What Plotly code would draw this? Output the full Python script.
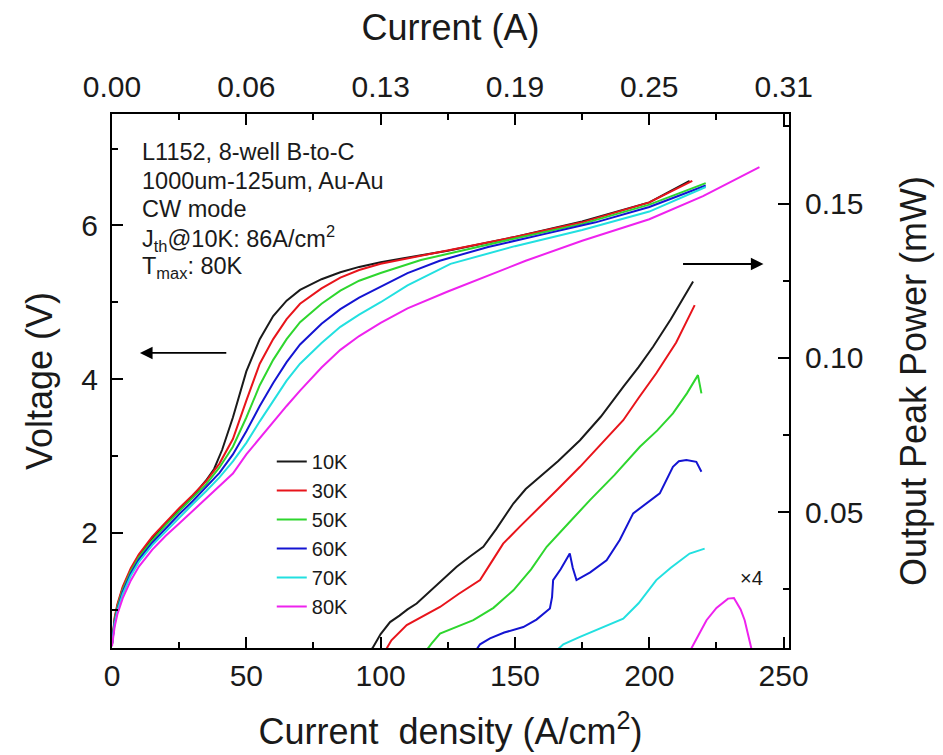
import plotly.graph_objects as go

# ---------------- data ----------------
temps = ["10K", "30K", "50K", "60K", "70K", "80K"]
colors = ["#1a1a1a", "#e8141b", "#2ed62e", "#1414d2", "#22e0e0", "#ee22ee"]

# Voltage vs current density (A/cm^2)
j_v_10 = [0, 1, 2, 4, 7, 10, 15, 20, 25, 30, 35, 38, 41, 45, 50, 55, 60, 65, 70, 78, 85, 92, 100, 108, 125, 150, 175, 200, 215]
v_10 = [0.55, 0.88, 1.05, 1.28, 1.52, 1.7, 1.93, 2.12, 2.3, 2.47, 2.68, 2.83, 3.08, 3.5, 4.1, 4.52, 4.82, 5.02, 5.16, 5.3, 5.39, 5.46, 5.52, 5.57, 5.67, 5.85, 6.05, 6.3, 6.58]

j_v_30 = [0, 1, 2, 4, 7, 10, 15, 20, 25, 30, 35, 40, 45, 50, 55, 60, 65, 70, 78, 85, 92, 100, 110, 125, 150, 175, 200, 216]
v_30 = [0.55, 0.9, 1.07, 1.3, 1.54, 1.72, 1.95, 2.14, 2.32, 2.49, 2.67, 2.9, 3.22, 3.72, 4.2, 4.52, 4.78, 4.98, 5.18, 5.32, 5.42, 5.5, 5.57, 5.67, 5.85, 6.04, 6.3, 6.58]

j_v_50 = [0, 1, 2, 4, 7, 10, 15, 20, 25, 30, 35, 40, 45, 50, 55, 60, 65, 70, 78, 85, 92, 100, 115, 130, 150, 175, 200, 221]
v_50 = [0.55, 0.86, 1.03, 1.26, 1.5, 1.68, 1.9, 2.1, 2.28, 2.45, 2.63, 2.85, 3.12, 3.5, 3.92, 4.25, 4.52, 4.74, 4.98, 5.15, 5.28, 5.38, 5.55, 5.67, 5.83, 6.02, 6.27, 6.55]

j_v_60 = [0, 1, 2, 4, 7, 10, 15, 20, 25, 30, 35, 40, 45, 50, 55, 60, 65, 70, 78, 85, 92, 100, 110, 122, 140, 160, 180, 200, 221]
v_60 = [0.55, 0.84, 1.0, 1.23, 1.47, 1.65, 1.87, 2.06, 2.24, 2.41, 2.59, 2.78, 3.02, 3.32, 3.65, 3.95, 4.22, 4.45, 4.72, 4.91, 5.06, 5.2, 5.38, 5.54, 5.72, 5.88, 6.04, 6.24, 6.52]

j_v_70 = [0, 1, 2, 4, 7, 10, 15, 20, 25, 30, 35, 40, 45, 50, 55, 60, 65, 70, 78, 85, 92, 100, 110, 126, 150, 175, 200, 221]
v_70 = [0.55, 0.82, 0.98, 1.2, 1.44, 1.62, 1.84, 2.02, 2.2, 2.37, 2.54, 2.72, 2.93, 3.17, 3.45, 3.72, 3.98, 4.2, 4.47, 4.68, 4.84, 5.0, 5.22, 5.5, 5.73, 5.94, 6.18, 6.5]

j_v_80 = [0, 1, 2, 4, 7, 10, 15, 20, 25, 30, 35, 40, 45, 50, 55, 60, 65, 70, 78, 85, 92, 100, 110, 125, 140, 154, 175, 200, 220, 241]
v_80 = [0.52, 0.78, 0.94, 1.15, 1.38, 1.56, 1.78, 1.96, 2.12, 2.28, 2.44, 2.6, 2.77, 3.02, 3.23, 3.45, 3.65, 3.85, 4.15, 4.38, 4.56, 4.73, 4.92, 5.14, 5.35, 5.54, 5.8, 6.08, 6.38, 6.76]

# Output peak power (mW) vs current density
j_p_10 = [95, 97, 100, 103.5, 107, 110, 113.4, 118, 123, 128.3, 133, 138.2, 143, 149.4, 154, 159.3, 166, 174.2, 182, 190.3, 196, 201.4, 208, 216.3]
p_10 = [0.004, 0.006, 0.0105, 0.0144, 0.0165, 0.0185, 0.0204, 0.024, 0.028, 0.0323, 0.0355, 0.0388, 0.0445, 0.0528, 0.0575, 0.0614, 0.0665, 0.0733, 0.081, 0.0906, 0.097, 0.1036, 0.1125, 0.1247]

j_p_30 = [101, 104, 109.7, 115, 122.1, 129, 137, 141, 145.6, 152, 159.3, 166, 174.2, 182, 190.3, 196, 202.6, 210, 216.9]
p_30 = [0.004, 0.0085, 0.0134, 0.016, 0.0193, 0.0235, 0.028, 0.0335, 0.0398, 0.0455, 0.0517, 0.0575, 0.0647, 0.072, 0.0798, 0.087, 0.095, 0.105, 0.1171]

j_p_50 = [116, 119, 122.1, 128, 134.5, 142, 149.4, 156, 161.8, 170, 177.9, 187, 196.5, 203, 208.8, 214, 218.1, 219.4]
p_50 = [0.004, 0.0075, 0.0107, 0.0128, 0.015, 0.019, 0.0247, 0.0315, 0.0388, 0.0465, 0.0539, 0.062, 0.0712, 0.0765, 0.082, 0.0885, 0.0944, 0.0885]

j_p_60 = [134.5, 137, 140.7, 146, 153.1, 158, 163, 163.8, 164.2, 167, 170.4, 171.5, 172.9, 178, 184.1, 189, 194, 199, 203.9, 208.8, 211, 213.8, 217.5, 219.4]
p_60 = [0.004, 0.0072, 0.0091, 0.011, 0.0128, 0.0152, 0.0188, 0.0225, 0.028, 0.0315, 0.0366, 0.032, 0.028, 0.0305, 0.0344, 0.041, 0.0496, 0.053, 0.0561, 0.0647, 0.0665, 0.0669, 0.0663, 0.0631]

j_p_70 = [164, 168, 174.2, 182, 190.3, 196, 202.6, 208, 215, 220.6]
p_70 = [0.004, 0.0072, 0.0096, 0.0125, 0.0155, 0.0205, 0.028, 0.032, 0.0366, 0.0382]

# 80K power is shown magnified x4
j_p_80 = [214.5, 218, 221.3, 225, 229.3, 231.5, 234, 235.5, 237, 238.5]
p_80 = [0.004, 0.0095, 0.015, 0.019, 0.022, 0.0222, 0.0185, 0.015, 0.01, 0.004]

volt_j = [j_v_10, j_v_30, j_v_50, j_v_60, j_v_70, j_v_80]
volt_v = [v_10, v_30, v_50, v_60, v_70, v_80]
pow_j = [j_p_10, j_p_30, j_p_50, j_p_60, j_p_70, j_p_80]
pow_p = [p_10, p_30, p_50, p_60, p_70, p_80]

# axis ticks
j_ticks = [0, 50, 100, 150, 200, 250]
j_minor = [25, 75, 125, 175, 225]
area_cm2 = 0.1 * 0.0125  # 1000 um x 125 um
current_ticks = [j * area_cm2 for j in j_ticks]
current_minor = [j * area_cm2 for j in j_minor]
current_labels = ["0.00", "0.06", "0.13", "0.19", "0.25", "0.31"]
v_ticks = [2, 4, 6]
v_minor = [1, 3, 5, 7]
p_ticks = [0.05, 0.10, 0.15]
p_labels = ["0.05", "0.10", "0.15"]
p_minor = [0.025, 0.075, 0.125, 0.175]

J_MAX = 252
V_RANGE = [0.5, 7.45]
P_RANGE = [0.006, 0.179]

# ---------------- figure ----------------
FONT = "Liberation Sans, Arial, sans-serif"
TICKFONT = dict(family=FONT, size=30, color="#1a1a1a")
TITLEFONT = dict(family=FONT, size=36, color="#1a1a1a")

fig = go.Figure()

for name, c, jj, vv in zip(temps, colors, volt_j, volt_v):
    fig.add_trace(go.Scatter(x=jj, y=vv, mode="lines", name=name, legendgroup=name,
                             line=dict(color=c, width=2), xaxis="x", yaxis="y"))

for name, c, jj, pp in zip(temps, colors, pow_j, pow_p):
    fig.add_trace(go.Scatter(x=jj, y=pp, mode="lines", name=name, legendgroup=name,
                             showlegend=False, line=dict(color=c, width=2),
                             xaxis="x", yaxis="y2"))

# carrier trace so the top current axis is rendered
fig.add_trace(go.Scatter(x=[0], y=[None], xaxis="x2", yaxis="y", showlegend=False,
                         hoverinfo="skip", mode="lines"))

axis_common = dict(showline=True, linewidth=2, linecolor="black", ticks="inside",
                   ticklen=11, tickwidth=1.6, tickcolor="black", showgrid=False,
                   zeroline=False, tickfont=TICKFONT, mirror=False, automargin=False)


def minor_ticks(vals):
    return dict(tickmode="array", tickvals=vals, ticklen=6, ticks="inside",
                tickcolor="black", tickwidth=1.6)


fig.update_layout(
    width=943, height=755,
    margin=dict(l=112, r=154, t=114, b=107),
    paper_bgcolor="white", plot_bgcolor="white",
    font=dict(family=FONT, color="#1a1a1a"),
    xaxis=dict(range=[0, J_MAX], tickmode="array", tickvals=j_ticks, minor=minor_ticks(j_minor),
               title=dict(text="Current\u00a0\u00a0density (A/cm<sup>2</sup>)", font=TITLEFONT, standoff=28),
               ticklabelstandoff=0, **axis_common),
    xaxis2=dict(overlaying="x", side="top", anchor="y", range=[0, J_MAX * area_cm2],
                tickmode="array", tickvals=current_ticks, ticktext=current_labels,
                minor=minor_ticks(current_minor),
                title=dict(text="Current (A)", font=TITLEFONT, standoff=18),
                ticklabelstandoff=3, **axis_common),
    yaxis=dict(range=V_RANGE, tickmode="array", tickvals=v_ticks, minor=minor_ticks(v_minor),
               title=dict(text="Voltage (V)", font=TITLEFONT, standoff=18),
               ticklabelstandoff=6, **axis_common),
    yaxis2=dict(overlaying="y", side="right", anchor="x", range=P_RANGE,
                tickmode="array", tickvals=p_ticks, ticktext=p_labels, minor=minor_ticks(p_minor),
                title=dict(text="Output Peak Power (mW)", font=TITLEFONT, standoff=38),
                ticklabelstandoff=8, **axis_common),
    legend=dict(x=0.236, y=0.386, xanchor="left", yanchor="top", bgcolor="rgba(0,0,0,0)",
                font=dict(family=FONT, size=20, color="#1a1a1a"), tracegroupgap=0,
                itemwidth=30),
    showlegend=True,
)

# sample description
info_lines = ["L1152, 8-well B-to-C", "1000um-125um, Au-Au", "CW mode",
              "J<sub>th</sub>@10K: 86A/cm<sup>2</sup>", "T<sub>max</sub>: 80K"]
info_y = [152, 181, 209, 238, 267]
for txt, ypx in zip(info_lines, info_y):
    fig.add_annotation(text=txt, xref="paper", yref="paper",
                       x=(140 - 112) / 677, y=(648 - ypx) / 534,
                       xanchor="left", yanchor="middle", showarrow=False,
                       font=dict(family=FONT, size=23.5, color="#1a1a1a"))

# arrows indicating which axis each curve family belongs to
fig.add_annotation(x=10.4, y=4.34, ax=43.1, ay=4.34, xref="x", yref="y", axref="x", ayref="y",
                   text="", showarrow=True, arrowhead=2, arrowsize=1.4, arrowwidth=1.8,
                   arrowcolor="black")
fig.add_annotation(x=242.5, y=0.1304, ax=212, ay=0.1304, xref="x", yref="y2", axref="x", ayref="y2",
                   text="", showarrow=True, arrowhead=2, arrowsize=1.4, arrowwidth=1.8,
                   arrowcolor="black")

fig.add_annotation(x=238, y=0.0286, xref="x", yref="y2", text="×4", showarrow=False,
                   font=dict(family=FONT, size=20, color="#1a1a1a"))

fig.write_html("out.html")
